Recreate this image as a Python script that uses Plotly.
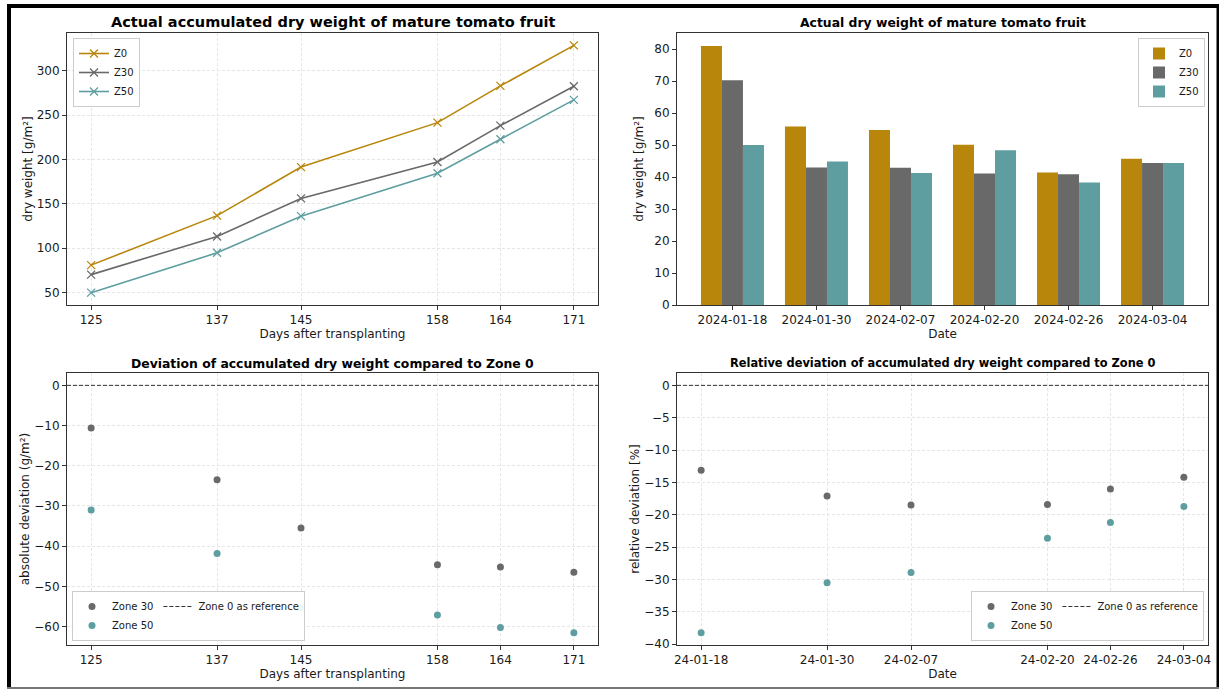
import plotly.graph_objects as go
import pandas as pd

# ---------------- data ----------------
days = [125, 137, 145, 158, 164, 171]
dates = ["2024-01-18", "2024-01-30", "2024-02-07", "2024-02-20", "2024-02-26", "2024-03-04"]

acc_z0 = [81.0, 136.8, 191.5, 241.6, 283.0, 328.7]
acc_z30 = [70.3, 113.3, 156.2, 197.3, 238.2, 282.6]
acc_z50 = [50.0, 94.9, 136.2, 184.6, 222.9, 267.3]

dw_z0 = [81.0, 55.8, 54.7, 50.1, 41.4, 45.7]
dw_z30 = [70.3, 43.0, 42.9, 41.1, 40.9, 44.4]
dw_z50 = [50.0, 44.9, 41.3, 48.4, 38.3, 44.4]

abs_dev_z30 = [-10.6, -23.5, -35.5, -44.6, -45.2, -46.5]
abs_dev_z50 = [-31.0, -41.8, -55.4, -57.1, -60.2, -61.5]

rel_dev_z30 = [-13.1, -17.1, -18.5, -18.4, -16.0, -14.2]
rel_dev_z50 = [-38.2, -30.5, -28.9, -23.6, -21.2, -18.7]

# ---------------- style ----------------
W, H = 1220, 689
C0, C30, C50 = "#B8860B", "#696969", "#5F9EA0"
FONT = "DejaVu Sans"
TXT = "#1a1a1a"


def px(x):
    return x / W


def py(y):
    return 1 - y / H


def pad(lo, hi, f=0.05):
    s = hi - lo
    return [lo - f * s, hi + f * s]


fig = go.Figure()

# ---- top-left: accumulated lines
for name, vals, col in [("Z0", acc_z0, C0), ("Z30", acc_z30, C30), ("Z50", acc_z50, C50)]:
    fig.add_trace(go.Scatter(
        x=days, y=vals, name=name, mode="lines+markers",
        line=dict(color=col, width=1.6),
        marker=dict(symbol="x-thin", size=8, line=dict(color=col, width=1.3)),
        xaxis="x", yaxis="y", legend="legend"))

# ---- top-right: bars
for name, vals, col in [("Z0", dw_z0, C0), ("Z30", dw_z30, C30), ("Z50", dw_z50, C50)]:
    fig.add_trace(go.Bar(
        x=dates, y=vals, name=name, marker=dict(color=col, line=dict(width=0)),
        xaxis="x2", yaxis="y2", legend="legend2"))

# ---- bottom-left: absolute deviation
for name, vals, col in [("Zone 30", abs_dev_z30, C30), ("Zone 50", abs_dev_z50, C50)]:
    fig.add_trace(go.Scatter(
        x=days, y=vals, name=name, mode="markers",
        marker=dict(color=col, size=7),
        xaxis="x3", yaxis="y3", legend="legend3", legendgroup="pts"))

# ---- bottom-right: relative deviation
for name, vals, col in [("Zone 30", rel_dev_z30, C30), ("Zone 50", rel_dev_z50, C50)]:
    fig.add_trace(go.Scatter(
        x=dates, y=vals, name=name, mode="markers",
        marker=dict(color=col, size=7),
        xaxis="x4", yaxis="y4", legend="legend4", legendgroup="pts"))

# reference lines (axhline equivalents)
for xr, yr, lg in [("x3", "y3", "legend3"), ("x4", "y4", "legend4")]:
    fig.add_shape(type="line", xref=f"{xr} domain", yref=yr, x0=0, x1=1, y0=0, y1=0,
                  line=dict(color="#333333", width=1, dash="4px,2px"),
                  showlegend=True, name="Zone 0 as reference", legend=lg,
                  legendgroup="ref")

# ---------------- axes ----------------
axis_common = dict(
    showline=True, mirror=True, linecolor="#333333", linewidth=1,
    ticks="outside", ticklen=4, tickcolor="#333333", tickwidth=1,
    tickfont=dict(family=FONT, size=12, color=TXT),
    automargin=False, zeroline=False,
)
grid = dict(showgrid=True, gridcolor="#e6e6e6", griddash="3px,2px", gridwidth=0.8)
TF = dict(family=FONT, size=12, color=TXT)

xd_left = [px(67), px(598)]
xd_right = [px(677), px(1208)]
yd_top = [py(305), py(33)]
yd_bot = [py(645), py(373)]

d0 = pd.Timestamp(dates[0])
d1 = pd.Timestamp(dates[-1])
span = d1 - d0
xr4 = [(d0 - 0.05 * span).isoformat(), (d1 + 0.05 * span).isoformat()]

XS = 2  # x-axis title standoff

fig.update_layout(
    xaxis=dict(domain=xd_left, anchor="y", range=pad(days[0], days[-1]),
               tickvals=days, title=dict(text="Days after transplanting", font=TF, standoff=XS),
               **axis_common, **grid),
    yaxis=dict(domain=yd_top, anchor="x",
               range=pad(min(acc_z50), max(acc_z0)), tickvals=[50, 100, 150, 200, 250, 300],
               title=dict(text="dry weight [g/m²]", font=TF),
               **axis_common, **grid),
    xaxis2=dict(domain=xd_right, anchor="y2", type="category", range=[-0.66, 5.66],
                title=dict(text="Date", font=TF, standoff=XS),
                showgrid=False, **axis_common),
    yaxis2=dict(domain=yd_top, anchor="x2", range=[0, max(dw_z0) * 1.05], dtick=10,
                title=dict(text="dry weight [g/m²]", font=TF),
                showgrid=False, **axis_common),
    xaxis3=dict(domain=xd_left, anchor="y3", range=pad(days[0], days[-1]), tickvals=days,
                title=dict(text="Days after transplanting", font=TF, standoff=XS),
                **axis_common, **grid),
    yaxis3=dict(domain=yd_bot, anchor="x3", range=pad(min(abs_dev_z50), 0), dtick=10,
                title=dict(text="absolute deviation (g/m²)", font=TF),
                **axis_common, **grid),
    xaxis4=dict(domain=xd_right, anchor="y4", type="date", range=xr4, tickvals=dates,
                tickformat="%y-%m-%d",
                title=dict(text="Date", font=TF, standoff=XS),
                **axis_common, **grid),
    yaxis4=dict(domain=yd_bot, anchor="x4", range=pad(min(rel_dev_z50), 0), dtick=5,
                title=dict(text="relative deviation [%]", font=TF),
                **axis_common, **grid),
)

# ---------------- legends ----------------
leg_common = dict(bgcolor="rgba(255,255,255,0.9)", bordercolor="#cccccc", borderwidth=1,
                  font=dict(family=FONT, size=10, color=TXT))
fig.update_layout(
    legend=dict(x=px(73), y=py(38), xanchor="left", yanchor="top", **leg_common),
    legend2=dict(x=px(1205), y=py(38), xanchor="right", yanchor="top", **leg_common),
    legend3=dict(x=px(72), y=py(641), xanchor="left", yanchor="bottom",
                 orientation="h", traceorder="grouped", tracegroupgap=0, **leg_common),
    legend4=dict(x=px(1204), y=py(641), xanchor="right", yanchor="bottom",
                 orientation="h", traceorder="grouped", tracegroupgap=0, **leg_common),
)

# ---------------- titles ----------------
titles = [
    ("Actual accumulated dry weight of mature tomato fruit", (67 + 598) / 2, 22, 14.5),
    ("Actual dry weight of mature tomato fruit", (677 + 1208) / 2, 23, 12.4),
    ("Deviation of accumulated dry weight compared to Zone 0", (67 + 598) / 2, 363, 12.4),
    ("Relative deviation of accumulated dry weight compared to Zone 0", (677 + 1208) / 2, 363, 11.4),
]
for text, cx, cy, fs in titles:
    fig.add_annotation(text=f"<b>{text}</b>", x=px(cx), y=py(cy), xref="paper", yref="paper",
                       xanchor="center", yanchor="middle", showarrow=False,
                       font=dict(family=FONT, size=fs, color="black"))

# ---------------- outer frame ----------------
frame = [
    (7, 4, 11, 689, "black"),
    (7, 4, 1219, 8, "black"),
    (1216.5, 4, 1219, 689, "black"),
    (7, 687, 1219, 689, "#777777"),
]
for x0, y0, x1, y1, col in frame:
    fig.add_shape(type="rect", xref="paper", yref="paper", x0=px(x0), x1=px(x1),
                  y0=py(y1), y1=py(y0), fillcolor=col, line=dict(width=0), layer="above")

fig.update_layout(
    width=W, height=H, template="none",
    margin=dict(l=0, r=0, t=0, b=0),
    paper_bgcolor="white", plot_bgcolor="white",
    barmode="group", bargap=0.25, bargroupgap=0,
    font=dict(family=FONT, color=TXT),
)

fig.write_html("out.html")
